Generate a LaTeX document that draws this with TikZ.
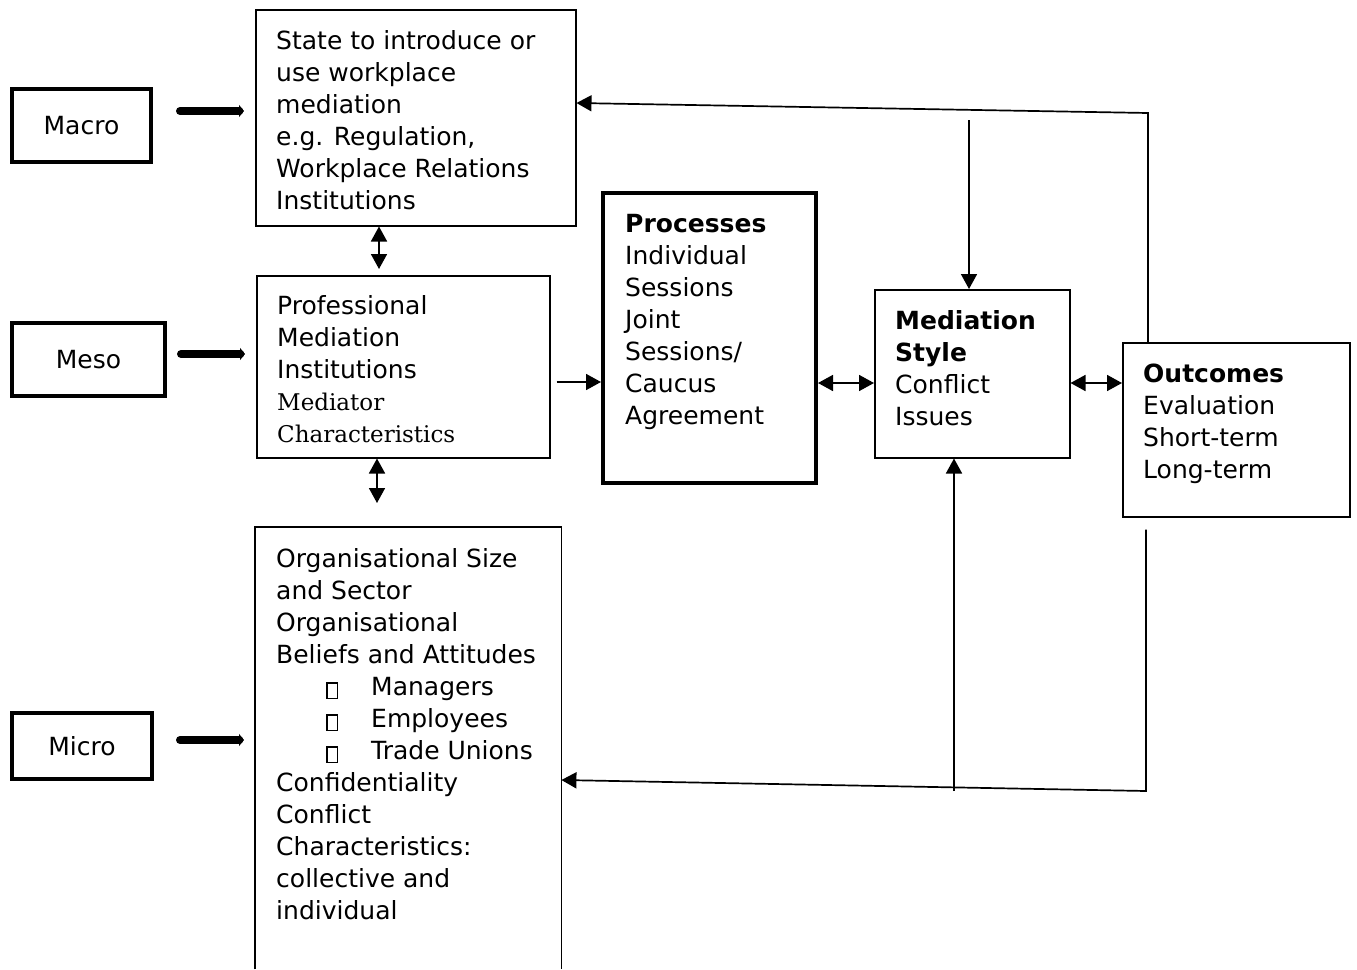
\documentclass[tikz,border=0pt]{standalone}
\usepackage{fontspec}
\setmainfont{DejaVu Sans}
\newfontfamily\srffont{DejaVu Serif}
\usetikzlibrary{arrows.meta}
\newcommand{\txtfont}{\fontsize{25}{32}\selectfont}
\newcommand{\srf}[1]{{\srffont\fontsize{23}{32}\selectfont #1}}
\newcommand{\bul}{\hspace*{50pt}\makebox[45pt][l]{\setlength\fboxsep{0pt}\setlength\fboxrule{1.5pt}\raisebox{-2.5pt}{\fbox{\rule{0pt}{14pt}\hspace*{9pt}}}}}
\tikzset{
  box/.style={draw,line width=1.5pt,anchor=north west,inner sep=0pt},
  fatbox/.style={box,line width=4pt},
  txt/.style={anchor=north west,inner sep=0pt,align=left,font=\txtfont},
  link/.style={line width=1.7pt},
  tip/.style={-{Triangle[length=15pt,width=16pt]}},
  dtip/.style={{Triangle[length=15pt,width=16pt]}-{Triangle[length=15pt,width=16pt]}},
  fat/.style={line width=8pt,line cap=round,-{Triangle[length=5pt,width=12pt]}}
}
\begin{document}
\begin{tikzpicture}[x=1pt,y=-1pt]
  \useasboundingbox (0,0) rectangle (1357,969);
  \node[box,minimum width=320pt,minimum height=216pt] (state) at (255,9) {};
  \node[box,minimum width=293pt,minimum height=182pt] (prof) at (256,275) {};
  \node[anchor=north west,inner sep=0pt,minimum width=306pt,minimum height=442pt] (org) at (255,527) {};
  \draw[line width=1.5pt] (org.south west) -- (org.north west) -- (org.north east) -- (org.south east);
  \node[fatbox,minimum width=213pt,minimum height=290pt] (proc) at (601,191) {};
  \node[box,minimum width=195pt,minimum height=168pt] (med) at (874,289) {};
  \node[box,minimum width=227pt,minimum height=174pt] (out) at (1122,342) {};

  \node[txt] (statetxt) at (276,26.6) {\strut State to introduce or\\use workplace\\mediation\\e.g. Regulation,\\Workplace Relations\\Institutions};
  \node[txt] (proftxt) at (277,291.6) {\strut Professional\\Mediation\\Institutions\\\srf{Mediator}\\\srf{Characteristics}};
  \node[txt] (orgtxt) at (276,544.6) {\strut Organisational Size\\and Sector\\Organisational\\Beliefs and Attitudes\\\bul Managers\\\bul Employees\\\bul Trade Unions\\Confidentiality\\Conflict\\Characteristics:\\collective and\\individual};
  \node[txt] (proctxt) at (625,209.6) {\strut\textbf{Processes}\\Individual\\Sessions\\Joint\\Sessions/\\Caucus\\Agreement};
  \node[txt] (medtxt) at (895,306.6) {\strut\textbf{Mediation}\\\textbf{Style}\\Conflict\\Issues};
  \node[txt] (outtxt) at (1143,359.6) {\strut\textbf{Outcomes}\\Evaluation\\Short-term\\Long-term};

  \foreach \nm/\lbl/\y/\w/\h/\ay/\dest in {macro/Macro/87/139/73/111/state,meso/Meso/321/153/73/354/prof,micro/Micro/711/140/66/740/org}
  {
    \node[fatbox,minimum width=\w pt,minimum height=\h pt,font=\txtfont] (\nm) at (10,\y) {\lbl};
    \draw[fat] (\dest.west |- 0,\ay) ++(-75,0) -- ++(64,0);
  }

  \draw[link,dtip,shorten >=6pt] (379,0 |- state.south) -- (379,0 |- prof.north);
  \draw[link,dtip,shorten >=24pt] (377,0 |- prof.south) -- (377,0 |- org.north);
  \draw[link,tip,shorten <=6pt] (prof.east |- 0,382) -- (proc.west |- 0,382);
  \draw[link,dtip] (proc.east |- 0,383) -- (med.west |- 0,383);
  \draw[link,dtip] (med.east |- 0,383) -- (out.west |- 0,383);

  \coordinate (topright) at (1148,113);
  \coordinate (topdrop) at (969,120);
  \coordinate (botright) at (1146,791);
  \coordinate (botmid) at (954,791);
  \draw[link,tip] (1148,0 |- out.north) -- (topright) -- (state.east |- 0,103);
  \draw[link,tip] (topdrop) -- (969,0 |- med.north);
  \draw[link,tip,shorten <=12pt] (1146,0 |- out.south) -- (botright) -- (org.east |- 0,780);
  \draw[link,tip] (botmid) -- (954,0 |- med.south);
\end{tikzpicture}
\end{document}
